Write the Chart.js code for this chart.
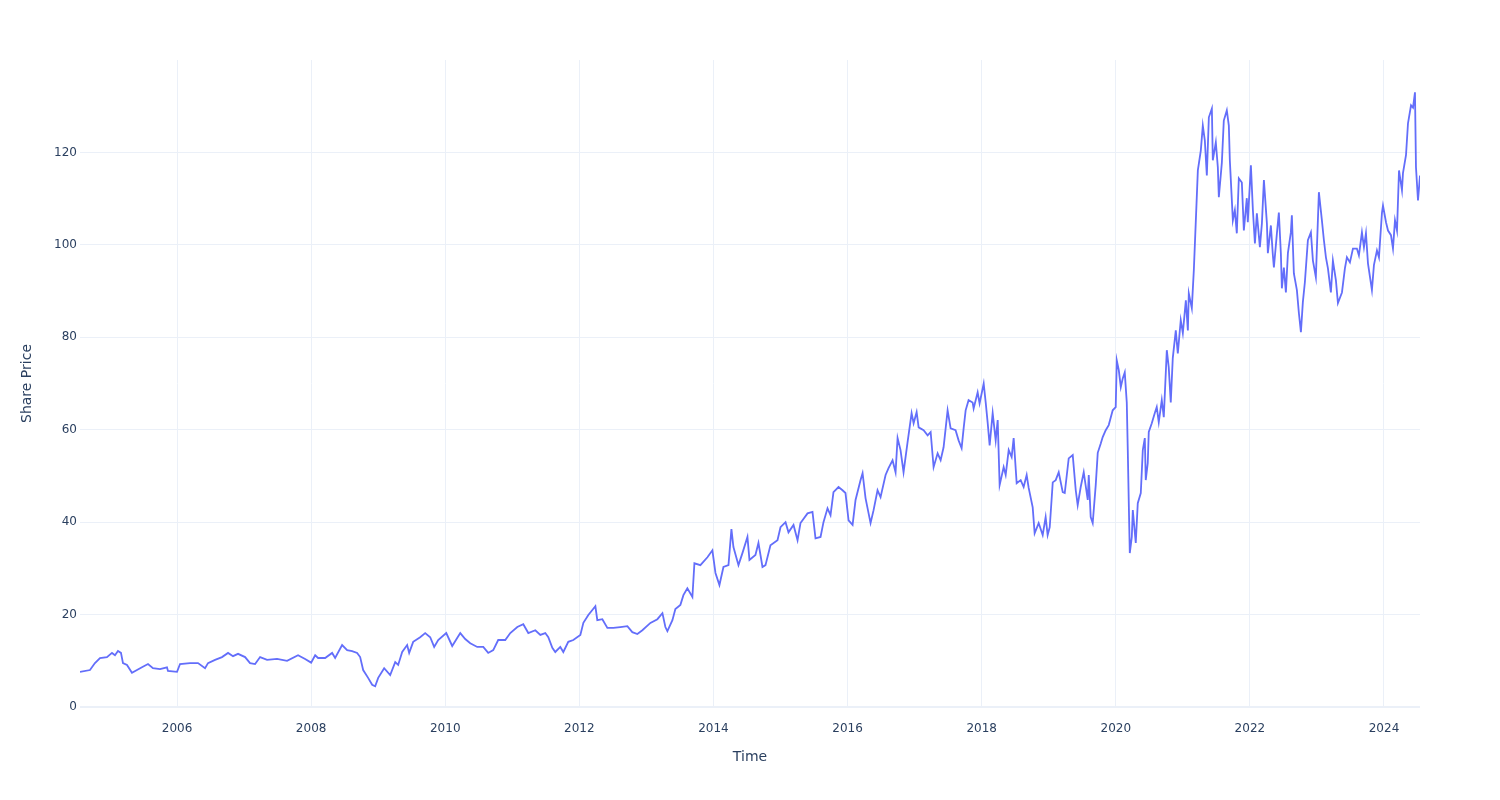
<!DOCTYPE html>
<html>
<head>
<meta charset="utf-8">
<script src="https://cdn.jsdelivr.net/npm/chart.js@4.4.0/dist/chart.umd.min.js"></script>
<style>
  html, body { margin: 0; padding: 0; background: #fff; }
  #wrap { width: 1500px; height: 800px; }
</style>
</head>
<body>
<div id="wrap"><canvas id="priceChart" width="1500" height="800"></canvas></div>
<script>
// decimal years
const years = [
  2004.553, 2004.702, 2004.776, 2004.851, 2004.955, 2005.030, 2005.075, 2005.119, 2005.164, 2005.194,
  2005.254, 2005.328, 2005.403, 2005.477, 2005.567, 2005.641, 2005.746, 2005.850, 2005.865, 2006.000,
  2006.045, 2006.194, 2006.313, 2006.418, 2006.462, 2006.567, 2006.671, 2006.761, 2006.835, 2006.910,
  2007.015, 2007.089, 2007.164, 2007.239, 2007.343, 2007.492, 2007.641, 2007.805, 2007.910, 2008.000,
  2008.060, 2008.104, 2008.209, 2008.313, 2008.358, 2008.462, 2008.537, 2008.611, 2008.686, 2008.731,
  2008.776, 2008.850, 2008.910, 2008.955, 2009.000, 2009.089, 2009.179, 2009.254, 2009.298, 2009.358,
  2009.432, 2009.462, 2009.522, 2009.626, 2009.701, 2009.776, 2009.835, 2009.895, 2010.015, 2010.104,
  2010.224, 2010.298, 2010.373, 2010.477, 2010.567, 2010.641, 2010.716, 2010.790, 2010.895, 2010.970,
  2011.075, 2011.164, 2011.239, 2011.343, 2011.418, 2011.492, 2011.537, 2011.597, 2011.641, 2011.716,
  2011.761, 2011.835, 2011.910, 2012.015, 2012.060, 2012.134, 2012.194, 2012.239, 2012.268, 2012.343,
  2012.418, 2012.507, 2012.611, 2012.716, 2012.790, 2012.865, 2012.940, 2013.060, 2013.164, 2013.239,
  2013.283, 2013.313, 2013.388, 2013.432, 2013.507, 2013.552, 2013.611, 2013.686, 2013.716, 2013.805,
  2013.910, 2013.984, 2014.030, 2014.089, 2014.149, 2014.224, 2014.268, 2014.298, 2014.373, 2014.432,
  2014.507, 2014.537, 2014.626, 2014.671, 2014.731, 2014.776, 2014.850, 2014.955, 2015.000, 2015.075,
  2015.119, 2015.194, 2015.254, 2015.298, 2015.403, 2015.477, 2015.522, 2015.597, 2015.641, 2015.701,
  2015.746, 2015.790, 2015.865, 2015.925, 2015.969, 2016.015, 2016.075, 2016.119, 2016.194, 2016.224,
  2016.268, 2016.343, 2016.388, 2016.447, 2016.492, 2016.567, 2016.611, 2016.671, 2016.716, 2016.746,
  2016.790, 2016.835, 2016.895, 2016.955, 2016.985, 2017.030, 2017.060, 2017.134, 2017.194, 2017.239,
  2017.283, 2017.343, 2017.388, 2017.432, 2017.492, 2017.537, 2017.611, 2017.656, 2017.701, 2017.731,
  2017.761, 2017.805, 2017.865, 2017.880, 2017.940, 2017.969, 2018.030, 2018.060, 2018.089, 2018.119,
  2018.164, 2018.209, 2018.239, 2018.268, 2018.328, 2018.358, 2018.403, 2018.447, 2018.477, 2018.522,
  2018.582, 2018.626, 2018.671, 2018.701, 2018.761, 2018.790, 2018.850, 2018.910, 2018.954, 2018.984,
  2019.015, 2019.060, 2019.104, 2019.149, 2019.209, 2019.239, 2019.298, 2019.358, 2019.403, 2019.432,
  2019.477, 2019.522, 2019.582, 2019.597, 2019.626, 2019.656, 2019.701, 2019.731, 2019.776, 2019.805,
  2019.850, 2019.895, 2019.954, 2019.999, 2020.015, 2020.045, 2020.075, 2020.104, 2020.134, 2020.164,
  2020.179, 2020.194, 2020.209, 2020.239, 2020.254, 2020.298, 2020.328, 2020.373, 2020.403, 2020.433,
  2020.447, 2020.477, 2020.492, 2020.537, 2020.582, 2020.611, 2020.641, 2020.686, 2020.716, 2020.761,
  2020.790, 2020.820, 2020.850, 2020.895, 2020.925, 2020.969, 2021.000, 2021.045, 2021.075, 2021.089,
  2021.134, 2021.164, 2021.194, 2021.224, 2021.268, 2021.298, 2021.328, 2021.358, 2021.388, 2021.433,
  2021.447, 2021.492, 2021.522, 2021.537, 2021.582, 2021.611, 2021.656, 2021.686, 2021.701, 2021.746,
  2021.776, 2021.805, 2021.835, 2021.880, 2021.910, 2021.954, 2021.969, 2022.015, 2022.045, 2022.075,
  2022.104, 2022.149, 2022.179, 2022.209, 2022.254, 2022.268, 2022.313, 2022.343, 2022.358, 2022.403,
  2022.432, 2022.462, 2022.477, 2022.507, 2022.537, 2022.567, 2022.611, 2022.626, 2022.656, 2022.701,
  2022.731, 2022.761, 2022.790, 2022.820, 2022.865, 2022.910, 2022.940, 2022.984, 2023.029, 2023.074,
  2023.104, 2023.134, 2023.164, 2023.208, 2023.238, 2023.283, 2023.313, 2023.373, 2023.417, 2023.447,
  2023.492, 2023.537, 2023.596, 2023.626, 2023.671, 2023.701, 2023.731, 2023.761, 2023.820, 2023.850,
  2023.895, 2023.925, 2023.970, 2023.985, 2024.030, 2024.060, 2024.104, 2024.134, 2024.164, 2024.194,
  2024.224, 2024.268, 2024.283, 2024.328, 2024.358, 2024.403, 2024.433, 2024.462, 2024.477, 2024.507,
  2024.537
];

const prices = [
  7.6, 8.0, 9.5, 10.6, 10.8, 11.7, 11.2, 12.1, 11.7, 9.5,
  9.1, 7.4, 8.0, 8.6, 9.3, 8.4, 8.2, 8.6, 7.8, 7.6,
  9.3, 9.5, 9.5, 8.4, 9.5, 10.2, 10.8, 11.7, 11.0, 11.5,
  10.8, 9.5, 9.3, 10.8, 10.2, 10.4, 10.0, 11.2, 10.4, 9.6,
  11.2, 10.6, 10.6, 11.7, 10.6, 13.4, 12.3, 12.1, 11.7, 10.8,
  8.0, 6.3, 4.8, 4.5, 6.3, 8.4, 6.9, 9.7, 9.1, 11.9,
  13.4, 11.7, 14.1, 15.1, 16.0, 15.1, 13.0, 14.5, 16.0, 13.2,
  16.0, 14.7, 13.8, 13.0, 13.0, 11.7, 12.3, 14.5, 14.5, 16.0,
  17.3, 17.9, 16.0, 16.6, 15.6, 16.0, 15.1, 12.8, 11.9, 13.0,
  11.9, 14.1, 14.5, 15.6, 18.2, 19.9, 21.0, 21.8, 18.8, 19.0,
  17.1, 17.1, 17.3, 17.5, 16.2, 15.8, 16.6, 18.2, 19.0, 20.3,
  17.3, 16.4, 18.8, 21.2, 22.1, 24.2, 25.7, 23.8, 31.1, 30.7,
  32.4, 33.9, 29.0, 26.4, 30.3, 30.7, 38.5, 34.6, 30.7, 33.3,
  36.8, 31.8, 32.9, 35.5, 30.3, 30.7, 35.0, 36.1, 38.9, 40.0,
  37.8, 39.4, 36.1, 39.8, 41.9, 42.2, 36.5, 36.8, 40.0, 43.0,
  41.5, 46.5, 47.6, 46.9, 46.3, 40.4, 39.4, 44.8, 49.1, 50.6,
  45.2, 39.8, 42.6, 46.9, 45.4, 50.2, 51.7, 53.4, 50.8, 58.2,
  55.6, 50.8, 57.3, 63.6, 61.4, 63.8, 60.5, 59.9, 58.8, 59.5,
  51.9, 54.9, 53.4, 56.2, 64.2, 60.3, 59.9, 57.7, 56.0, 60.3,
  64.2, 66.4, 65.9, 64.6, 68.1, 65.7, 70.0, 65.9, 61.6, 56.6,
  63.6, 57.7, 62.1, 48.0, 51.9, 50.2, 55.6, 54.1, 58.2, 48.4,
  49.1, 47.6, 50.2, 47.4, 43.2, 37.6, 39.8, 37.2, 41.1, 37.2,
  38.9, 48.6, 49.1, 50.8, 46.5, 46.3, 53.8, 54.5, 46.9, 43.7,
  47.6, 50.8, 44.8, 50.2, 41.1, 39.8, 48.0, 55.0, 57.0, 58.4,
  59.9, 61.0, 64.2, 64.9, 75.0, 72.9, 69.2, 71.1, 72.4, 65.9,
  55.6, 44.1, 33.3, 36.8, 42.6, 35.5, 44.1, 46.3, 55.6, 58.2,
  49.1, 52.8, 59.5, 61.4, 63.6, 64.9, 61.6, 66.4, 62.7, 77.2,
  73.5, 65.9, 75.5, 81.5, 76.5, 83.7, 80.9, 88.0, 81.5, 89.5,
  86.3, 94.5, 105.3, 116.1, 120.4, 125.8, 122.6, 115.0, 127.6, 129.5,
  118.3, 122.2, 116.8, 110.3, 117.8, 126.9, 129.1, 125.8, 118.3, 105.3,
  107.5, 102.5, 114.4, 113.5, 103.1, 110.1, 104.9, 117.2, 107.5, 100.3,
  106.8, 99.5, 104.6, 114.0, 104.6, 98.2, 104.2, 97.7, 95.1, 102.5,
  107.0, 98.2, 90.6, 95.1, 89.7, 98.2, 102.7, 106.4, 93.8, 90.2,
  85.2, 81.1, 87.6, 91.9, 101.0, 102.7, 96.6, 93.0, 111.4, 105.3,
  101.0, 97.3, 94.9, 89.7, 96.6, 92.3, 87.4, 89.7, 94.9, 97.3,
  96.2, 99.2, 99.2, 97.7, 102.7, 99.5, 102.5, 96.0, 90.2, 95.6,
  98.8, 97.3, 107.0, 108.5, 104.9, 103.1, 102.1, 99.2, 105.3, 103.1,
  116.1, 111.8, 115.5, 119.4, 126.3, 130.2, 129.7, 133.0, 116.8, 109.6,
  115.0
];

const xTicks = [2006, 2008, 2010, 2012, 2014, 2016, 2018, 2020, 2022, 2024];
const yTicks = [0, 20, 40, 60, 80, 100, 120];

const axisFont = { family: 'DejaVu Sans', size: 12 };
const titleFont = { family: 'DejaVu Sans', size: 14 };
const textColor = '#2a3f5f';
const gridColor = '#ebf0f8';

const points = years.map((x, i) => ({ x: x, y: prices[i] }));

const ctx = document.getElementById('priceChart').getContext('2d');
const priceChart = new Chart(ctx, {
    type: 'line',
    data: {
        datasets: [
            {
                label: 'Share Price',
                data: points,
                borderColor: '#636efa',
                backgroundColor: '#636efa',
                borderWidth: 1.8,
                pointRadius: 0,
                tension: 0,
                fill: false,
            },
        ],
    },
    options: {
        responsive: false,
        animation: false,
        devicePixelRatio: 1,
        layout: {
            padding: { top: 60, right: 80, left: 0, bottom: 0 },
        },
        plugins: {
            legend: { display: false },
            tooltip: { enabled: false },
        },
        scales: {
            x: {
                type: 'linear',
                min: years[0],
                max: years[years.length - 1],
                afterBuildTicks: (scale) => {
                    scale.ticks = xTicks.map(v => ({ value: v }));
                },
                afterFit: (scale) => {
                    scale.height = 93;
                },
                grid: { color: gridColor, lineWidth: 1, drawTicks: false },
                border: { display: false },
                ticks: {
                    font: axisFont,
                    color: textColor,
                    padding: 15,
                    maxRotation: 0,
                    callback: (v) => String(v),
                },
                title: {
                    display: true,
                    text: 'Time',
                    font: titleFont,
                    color: textColor,
                    padding: { top: 0, bottom: 34 },
                },
            },
            y: {
                min: 0,
                max: 140,
                afterBuildTicks: (scale) => {
                    scale.ticks = yTicks.map(v => ({ value: v }));
                },
                afterFit: (scale) => {
                    scale.width = 80;
                },
                grid: {
                    color: gridColor,
                    lineWidth: (c) => (c.tick && c.tick.value === 0 ? 2 : 1),
                    drawTicks: false,
                },
                border: { display: false },
                ticks: {
                    font: axisFont,
                    color: textColor,
                    padding: 3,
                },
                title: {
                    display: true,
                    text: 'Share Price',
                    font: titleFont,
                    color: textColor,
                    padding: { top: 19, bottom: 0 },
                },
            },
        },
    },
});
</script>
</body>
</html>
